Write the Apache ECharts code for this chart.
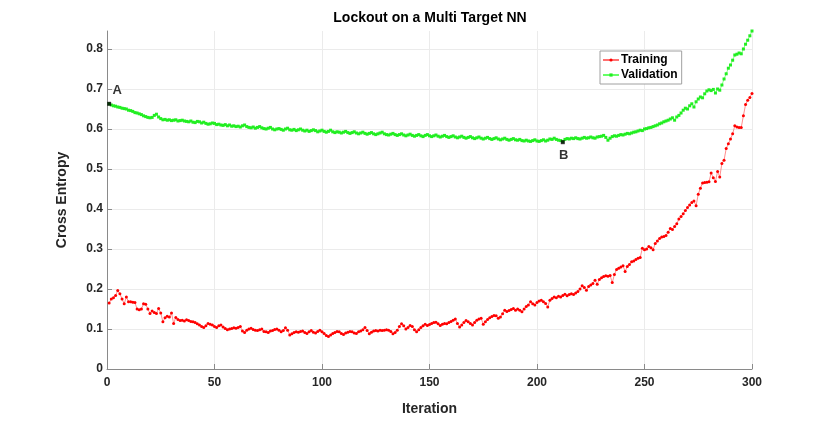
<!DOCTYPE html>
<html>
<head>
<meta charset="utf-8">
<script src="https://cdn.jsdelivr.net/npm/echarts@6/dist/echarts.min.js"></script>
<style>html,body{margin:0;padding:0;background:#fff}#c{width:830px;height:421px}</style>
</head>
<body>
<div id="c"></div>
<script>
const titleText = 'Lockout on a Multi Target NN';
const xName = 'Iteration';
const yName = 'Cross Entropy';
const seriesNames = ['Training', 'Validation'];

const training = [
0.165,0.175,0.178,0.184,0.196,0.188,0.175,0.163,0.180,0.168,
0.168,0.167,0.166,0.150,0.148,0.150,0.163,0.162,0.150,0.139,
0.145,0.141,0.139,0.151,0.140,0.118,0.128,0.132,0.130,0.140,
0.114,0.129,0.124,0.121,0.122,0.120,0.123,0.121,0.119,0.118,
0.116,0.113,0.110,0.106,0.104,0.108,0.114,0.112,0.110,0.106,
0.104,0.108,0.110,0.105,0.101,0.098,0.100,0.101,0.103,0.102,
0.104,0.106,0.095,0.091,0.097,0.100,0.102,0.099,0.097,0.096,
0.098,0.100,0.094,0.093,0.091,0.095,0.096,0.099,0.100,0.097,
0.093,0.096,0.103,0.097,0.085,0.088,0.091,0.093,0.092,0.094,
0.095,0.091,0.089,0.093,0.096,0.092,0.090,0.094,0.097,0.093,
0.089,0.084,0.081,0.085,0.089,0.091,0.094,0.093,0.089,0.086,
0.090,0.092,0.094,0.093,0.090,0.089,0.093,0.095,0.098,0.104,
0.096,0.088,0.092,0.095,0.096,0.095,0.097,0.096,0.097,0.098,
0.097,0.094,0.088,0.091,0.097,0.106,0.113,0.108,0.100,0.104,
0.109,0.106,0.098,0.093,0.098,0.104,0.108,0.112,0.109,0.111,
0.114,0.116,0.117,0.113,0.109,0.112,0.114,0.113,0.116,0.119,
0.122,0.125,0.114,0.105,0.110,0.116,0.121,0.118,0.114,0.110,
0.116,0.122,0.125,0.127,0.112,0.118,0.124,0.128,0.131,0.134,
0.133,0.127,0.130,0.138,0.147,0.144,0.146,0.149,0.151,0.147,
0.150,0.147,0.143,0.150,0.156,0.160,0.168,0.163,0.160,0.166,
0.170,0.172,0.168,0.164,0.155,0.172,0.176,0.180,0.178,0.182,
0.180,0.184,0.187,0.183,0.186,0.188,0.186,0.190,0.194,0.200,
0.208,0.204,0.197,0.206,0.210,0.214,0.222,0.212,0.224,0.228,
0.231,0.233,0.232,0.234,0.216,0.236,0.249,0.252,0.255,0.258,
0.244,0.256,0.261,0.268,0.270,0.274,0.277,0.279,0.302,0.298,
0.300,0.306,0.303,0.298,0.314,0.320,0.326,0.330,0.331,0.334,
0.342,0.351,0.349,0.356,0.363,0.375,0.381,0.388,0.396,0.404,
0.410,0.416,0.420,0.408,0.437,0.452,0.465,0.466,0.467,0.468,
0.490,0.478,0.469,0.494,0.480,0.514,0.522,0.551,0.563,0.575,
0.588,0.608,0.605,0.604,0.604,0.633,0.661,0.672,0.679,0.689
];

const validation = [
0.663,0.660,0.658,0.657,0.655,0.654,0.652,0.651,0.650,0.647,
0.646,0.644,0.641,0.640,0.638,0.636,0.633,0.631,0.629,0.628,
0.629,0.634,0.637,0.630,0.626,0.623,0.624,0.622,0.623,0.621,
0.622,0.623,0.620,0.621,0.622,0.620,0.619,0.618,0.620,0.617,
0.616,0.619,0.618,0.615,0.617,0.614,0.612,0.613,0.615,0.614,
0.611,0.612,0.610,0.609,0.611,0.608,0.610,0.607,0.608,0.606,
0.607,0.605,0.608,0.610,0.606,0.604,0.603,0.605,0.602,0.604,
0.606,0.603,0.601,0.600,0.602,0.604,0.600,0.598,0.600,0.601,
0.599,0.597,0.600,0.602,0.598,0.597,0.599,0.596,0.598,0.600,
0.597,0.595,0.597,0.594,0.596,0.598,0.596,0.593,0.595,0.597,
0.594,0.592,0.594,0.597,0.593,0.591,0.593,0.592,0.590,0.592,
0.594,0.591,0.589,0.591,0.593,0.590,0.588,0.590,0.592,0.589,
0.587,0.589,0.591,0.588,0.586,0.588,0.590,0.592,0.588,0.586,
0.585,0.587,0.589,0.586,0.584,0.586,0.588,0.585,0.583,0.585,
0.587,0.584,0.582,0.584,0.586,0.583,0.581,0.584,0.586,0.583,
0.581,0.583,0.585,0.582,0.580,0.582,0.584,0.581,0.579,0.581,
0.583,0.580,0.578,0.580,0.582,0.579,0.577,0.579,0.581,0.578,
0.576,0.578,0.580,0.577,0.575,0.577,0.579,0.576,0.574,0.576,
0.578,0.575,0.573,0.575,0.577,0.574,0.572,0.574,0.576,0.573,
0.572,0.574,0.571,0.570,0.572,0.570,0.569,0.571,0.573,0.570,
0.569,0.571,0.573,0.570,0.572,0.575,0.574,0.577,0.574,0.572,
0.571,0.569,0.574,0.576,0.575,0.577,0.576,0.578,0.576,0.575,
0.577,0.579,0.577,0.578,0.580,0.578,0.577,0.580,0.581,0.582,
0.584,0.579,0.572,0.577,0.581,0.583,0.582,0.584,0.586,0.585,
0.587,0.589,0.588,0.590,0.592,0.593,0.595,0.597,0.596,0.600,
0.601,0.603,0.604,0.606,0.608,0.610,0.613,0.615,0.618,0.620,
0.622,0.625,0.628,0.622,0.630,0.634,0.640,0.647,0.652,0.650,
0.658,0.663,0.655,0.668,0.675,0.680,0.678,0.688,0.695,0.698,
0.696,0.699,0.690,0.700,0.697,0.710,0.725,0.738,0.752,0.760,
0.772,0.785,0.787,0.790,0.788,0.800,0.812,0.822,0.833,0.845
];

const markLabels = ['A', 'B'];
const markX = [1, 212];
const markY = [0.663, 0.567];

const toPairs = arr => arr.map((v, i) => [i + 1, v]);
const axisColor = '#8a8a8a';
const textColor = '#262626';
const font = 'Liberation Sans, Arial, Helvetica, sans-serif';

const chart = echarts.init(document.getElementById('c'), null, {renderer: 'canvas'});
chart.setOption({
  animation: false,
  backgroundColor: '#ffffff',
  title: {
    text: titleText, left: 430, top: 11, padding: 0, textAlign: 'center',
    textStyle: {fontFamily: font, fontWeight: 'bold', fontSize: 14, color: '#000'}
  },
  grid: {left: 107, right: 78, top: 31, bottom: 46, containLabel: false},
  legend: {
    data: seriesNames, orient: 'vertical', left: 600, top: 51,
    backgroundColor: '#fff', borderColor: '#a0a0a0', borderWidth: 1,
    padding: [2, 4, 2, 2], itemGap: 1, itemWidth: 16, itemHeight: 4,
    textStyle: {fontFamily: font, fontWeight: 'bold', fontSize: 12, color: '#000', lineHeight: 14, padding: [0, 0, 0, -3]}
  },
  xAxis: {
    type: 'value', min: 0, max: 300, interval: 50,
    name: xName, nameLocation: 'middle', nameGap: 33,
    nameTextStyle: {fontFamily: font, fontWeight: 'bold', fontSize: 14, color: textColor},
    axisLine: {show: true, onZero: false, lineStyle: {color: axisColor, width: 1}},
    axisTick: {show: true, inside: true, length: 5, lineStyle: {color: axisColor}},
    axisLabel: {fontFamily: font, fontWeight: 'bold', fontSize: 12, color: textColor, margin: 8},
    splitLine: {show: true, lineStyle: {color: '#ebebeb', width: 1}}
  },
  yAxis: {
    type: 'value', min: 0, max: 0.845, interval: 0.1,
    name: yName, nameLocation: 'middle', nameGap: 38, nameRotate: 90,
    nameTextStyle: {fontFamily: font, fontWeight: 'bold', fontSize: 14, color: textColor},
    axisLine: {show: true, onZero: false, lineStyle: {color: axisColor, width: 1}},
    axisTick: {show: true, inside: true, length: 5, lineStyle: {color: axisColor}},
    axisLabel: {fontFamily: font, fontWeight: 'bold', fontSize: 12, color: textColor, margin: 4,
      showMaxLabel: false, formatter: v => (Math.abs(v * 10 - Math.round(v * 10)) < 1e-6 ? (Math.round(v * 10) / 10).toString() : '')},
    splitLine: {show: true, showMaxLine: false, lineStyle: {color: '#ebebeb', width: 1}}
  },
  series: [
    {
      name: seriesNames[0], type: 'line', data: toPairs(training),
      symbol: 'circle', symbolSize: 3, showAllSymbol: true,
      itemStyle: {color: '#ff0000'},
      lineStyle: {color: '#ff7070', width: 0.8},
      emphasis: {disabled: true}, z: 3
    },
    {
      name: seriesNames[1], type: 'line', data: toPairs(validation),
      symbol: 'rect', symbolSize: 3, showAllSymbol: true,
      itemStyle: {color: '#22ee22'},
      lineStyle: {color: '#66ff66', width: 0.8},
      emphasis: {disabled: true}, z: 3
    },
    {
      name: 'marks', type: 'scatter', symbol: 'rect', symbolSize: 4,
      data: markX.map((x, i) => ({value: [x, markY[i]], name: markLabels[i],
        label: {position: i === 0 ? 'top' : 'bottom', offset: i === 0 ? [8, -1] : [1, 1]}})),
      itemStyle: {color: '#000'},
      label: {show: true, formatter: p => p.name, fontFamily: font, fontWeight: 'bold', fontSize: 13, color: '#000', distance: 4},
      emphasis: {disabled: true}, z: 5
    }
  ]
});
</script>
</body>
</html>
